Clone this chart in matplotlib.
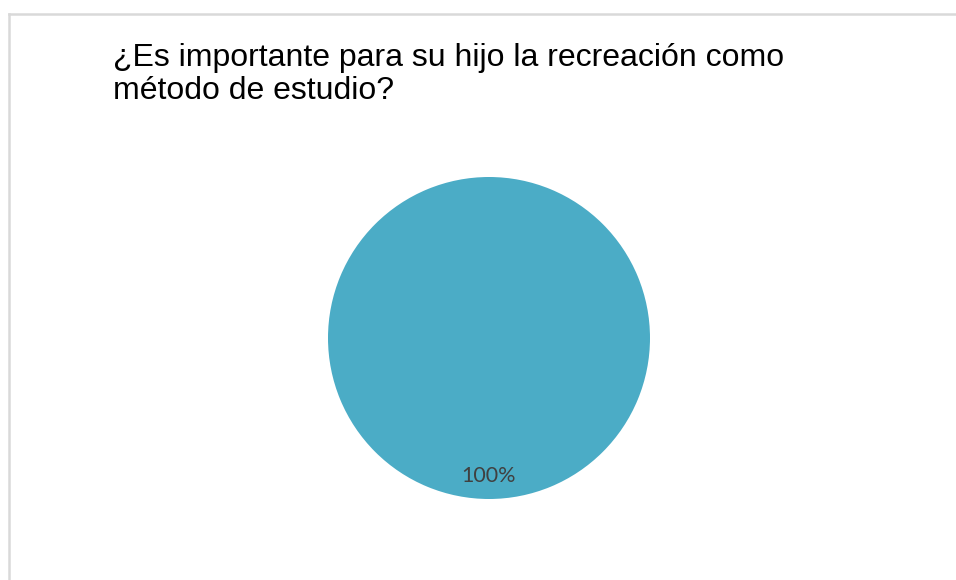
import matplotlib
matplotlib.use("Agg")
import matplotlib.pyplot as plt
from matplotlib.lines import Line2D

# data
categories = ["Sí"]
values = [100]
colors = ["#4BACC6"]
title = "¿Es importante para su hijo la recreación como\nmétodo de estudio?"

W, H = 956, 580
fig = plt.figure(figsize=(W / 100, H / 100), dpi=100)
fig.patch.set_facecolor("white")

# chart border (top and left visible)
fig.add_artist(Line2D([8.5 / W, 1.0], [1 - 13.5 / H, 1 - 13.5 / H],
                      transform=fig.transFigure, color="#d9d9d9", lw=1.8))
fig.add_artist(Line2D([8.5 / W, 8.5 / W], [0, 1 - 13.5 / H],
                      transform=fig.transFigure, color="#d9d9d9", lw=1.8))

# pie
cx, cy, r = 489, 338, 161
ax = fig.add_axes([(cx - r) / W, (H - cy - r) / H, 2 * r / W, 2 * r / H])
wedges, texts, autotexts = ax.pie(
    values, colors=colors, startangle=90, counterclock=False,
    autopct="%1.0f%%", pctdistance=0.857,
    wedgeprops=dict(linewidth=0),
    textprops=dict(color="#404040", fontsize=15.5, family="Lato"))
ax.set_xlim(-1, 1)
ax.set_ylim(-1, 1)
ax.axis("off")

fig.text(113 / W, 1 - 43 / H, title, ha="left", va="top",
         fontsize=23, family="Liberation Sans", color="black",
         linespacing=1.15)

fig.savefig("out.png", dpi=100, facecolor="white")
